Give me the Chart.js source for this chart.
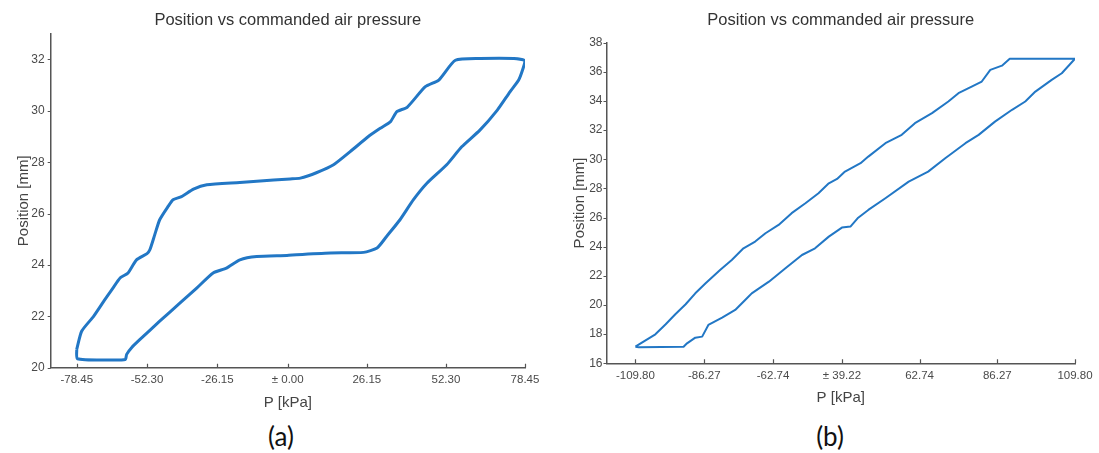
<!DOCTYPE html>
<html>
<head>
<meta charset="utf-8">
<script src="https://cdn.jsdelivr.net/npm/chart.js@4.4.1/dist/chart.umd.min.js"></script>
<style>
  body { margin: 0; background: #fff; width: 1099px; height: 453px; overflow: hidden; position: relative; }
  .box { position: absolute; top: 0; height: 420px; }
  #boxA { left: 0; width: 550px; }
  #boxB { left: 550px; width: 549px; }
  .tag { position: absolute; top: 421px; line-height: 30px; font-family: Lato, "Open Sans", sans-serif; font-size: 26px; color: #111; transform: translateX(-50%); }
</style>
</head>
<body>
<div class="box" id="boxA"><canvas id="chartA"></canvas></div>
<div class="box" id="boxB"><canvas id="chartB"></canvas></div>
<div class="tag" style="left:281px">(a)</div>
<div class="tag" style="left:830px">(b)</div>
<script>
// tick labels as printed under each x axis
var xLabelsA = ['-78.45', '-52.30', '-26.15', '± 0.00', '26.15', '52.30', '78.45']
var xLabelsB = ['-109.80', '-86.27', '-62.74', '± 39.22', '62.74', '86.27', '109.80']
var yTicksA = [20, 22, 24, 26, 28, 30, 32]
var yTicksB = [16, 18, 20, 22, 24, 26, 28, 30, 32, 34, 36, 38]

// P given in tick steps from the first x tick (0..6), position in mm
var pA = [0.00, 0.07, 0.24, 0.40, 0.50, 0.62, 0.73, 0.85, 1.00, 1.04, 1.11, 1.18, 1.30, 1.37, 1.49, 1.66, 1.85, 2.32, 2.80, 3.03, 3.16, 3.37, 3.58, 3.79, 4.02, 4.17, 4.30, 4.38, 4.51, 4.74, 4.91, 5.12, 5.43, 5.86, 6.00,
  5.97, 5.92, 5.81, 5.65, 5.43, 5.20, 5.01, 4.76, 4.59, 4.42, 4.25, 4.13, 3.96, 3.54, 3.11, 2.99, 2.56, 2.32, 2.13, 1.94, 1.71, 1.47, 1.18, 0.90, 0.78, 0.71, 0.69, 0.43, 0.01, 0.00]
var posA = [20.71, 21.42, 22.0, 22.65, 23.04, 23.5, 23.69, 24.2, 24.44, 24.59, 25.18, 25.76, 26.28, 26.54, 26.66, 26.95, 27.12, 27.21, 27.31, 27.35, 27.38, 27.6, 27.9, 28.41, 29.0, 29.32, 29.58, 29.97, 30.14, 30.94, 31.2, 31.97, 32.04, 32.04, 31.95,
  31.6, 31.2, 30.74, 30.03, 29.25, 28.6, 27.9, 27.18, 26.54, 25.76, 25.11, 24.66, 24.49, 24.47, 24.40, 24.37, 24.33, 24.2, 23.88, 23.69, 23.11, 22.52, 21.81, 21.1, 20.78, 20.52, 20.32, 20.30, 20.35, 20.71]

var pB = [0, 0.10, 0.29, 0.44, 0.58, 0.73, 0.87, 1.02, 1.23, 1.40, 1.57, 1.74, 1.89, 2.08, 2.27, 2.47, 2.66, 2.81, 2.93, 3.04, 3.24, 3.34, 3.56, 3.77, 3.94, 4.16, 4.37, 4.50, 4.67, 4.80, 4.91, 5.06, 5.16, 6.00,
  5.83, 5.70, 5.49, 5.36, 5.19, 4.97, 4.76, 4.59, 4.33, 4.11, 3.86, 3.56, 3.34, 3.21, 3.11, 3.00, 2.81, 2.61, 2.42, 2.18, 1.94, 1.69, 1.62, 1.45, 1.26, 1.06, 0.97, 0.87, 0.75, 0.70, 0.05, 0]
var posB = [17.14, 17.44, 17.99, 18.68, 19.36, 20.05, 20.80, 21.49, 22.40, 23.09, 23.89, 24.35, 24.92, 25.49, 26.30, 26.98, 27.67, 28.35, 28.65, 29.15, 29.73, 30.18, 31.10, 31.67, 32.47, 33.16, 33.96, 34.53, 34.98, 35.33, 36.13, 36.42, 36.89, 36.89,
  35.90, 35.44, 34.64, 33.96, 33.39, 32.58, 31.67, 31.10, 30.07, 29.15, 28.46, 27.32, 26.52, 25.99, 25.38, 25.31, 24.69, 23.89, 23.43, 22.52, 21.60, 20.80, 20.46, 19.66, 19.13, 18.63, 17.83, 17.76, 17.37, 17.14, 17.10, 17.14]

var FONT = '"Liberation Sans", Arial, sans-serif'
var BLUE = '#2277c5'

// right half of the x axis has wider tick spacing than the left half
function toAxis(s, r) {
  return s <= 3 ? s : 3 + (s - 3) * r
}

// small tick marks: x ticks point up into the plot, y ticks point out
var tickMarks = {
  id: 'tickMarks',
  afterDraw: function (chart) {
    var ctx = chart.ctx, x = chart.scales.x, y = chart.scales.y
    ctx.save()
    ctx.strokeStyle = '#555'
    ctx.lineWidth = 1.2
    ctx.beginPath()
    x.ticks.forEach(function (t) {
      var px = Math.round(x.getPixelForValue(t.value)) + 0.5
      ctx.moveTo(px, x.top)
      ctx.lineTo(px, x.top - 4)
    })
    y.ticks.forEach(function (t) {
      var py = Math.round(y.getPixelForValue(t.value)) + 0.5
      ctx.moveTo(y.right, py)
      ctx.lineTo(y.right - 3, py)
    })
    ctx.stroke()
    ctx.restore()
  }
}

function makeChart(id, s) {
  var pts = s.p.map(function (v, i) { return { x: toAxis(v, s.r), y: s.pos[i] } })
  return new Chart(document.getElementById(id), {
    type: 'scatter',
    data: {
      datasets: [{
        data: pts,
        showLine: true,
        borderColor: BLUE,
        backgroundColor: BLUE,
        borderWidth: s.lw,
        borderJoinStyle: 'round',
        pointRadius: 0,
        tension: s.tension
      }]
    },
    options: {
      responsive: true,
      maintainAspectRatio: false,
      animation: false,
      layout: { padding: { left: 0, right: s.padRight, top: 0, bottom: 0 } },
      plugins: {
        legend: { display: false },
        tooltip: { enabled: false },
        title: {
          display: true,
          text: 'Position vs commanded air pressure',
          fullSize: false,
          color: '#333',
          font: { family: FONT, size: 16.5, weight: 'normal' },
          padding: { top: 11, bottom: s.titleGap }
        }
      },
      scales: {
        x: {
          type: 'linear',
          min: s.xMin,
          max: 3 + 3 * s.r,
          afterBuildTicks: function (sc) {
            sc.ticks = s.labels.map(function (l, i) { return { value: toAxis(i, s.r) } })
          },
          afterFit: function (sc) { sc.height = s.xH },
          grid: { display: false, drawTicks: false },
          border: { color: '#555', width: 1.5 },
          ticks: {
            autoSkip: false, maxRotation: 0, padding: s.xPad, color: '#4a4a4a',
            font: { family: FONT, size: 11.5 },
            callback: function (v, i) { return s.labels[i] }
          },
          title: {
            display: true, text: 'P [kPa]', color: '#444',
            font: { family: FONT, size: 15 },
            padding: { top: 0, bottom: s.xTitlePad }
          }
        },
        y: {
          type: 'linear',
          min: s.yMin,
          max: s.yMax,
          afterBuildTicks: function (sc) {
            sc.ticks = s.yTicks.map(function (v) { return { value: v } })
          },
          afterFit: function (sc) { sc.width = s.yW },
          grid: { display: false, drawTicks: false },
          border: { color: '#555', width: 1.5 },
          ticks: {
            padding: s.yPad, color: '#4a4a4a',
            font: { family: FONT, size: 12 }
          },
          title: {
            display: true, text: 'Position [mm]', color: '#444',
            font: { family: FONT, size: 15 },
            padding: { top: s.yTitlePad, bottom: 0 }
          }
        }
      }
    },
    plugins: [tickMarks]
  })
}

makeChart('chartA', {
  p: pA, pos: posA, labels: xLabelsA, yTicks: yTicksA,
  r: 1.125, xMin: -0.37, yMin: 20, yMax: 33, lw: 3, tension: 0.2,
  padRight: 25, titleGap: 3, xH: 52.3, xPad: 5, xTitlePad: 8,
  yW: 50.7, yPad: 6, yTitlePad: 15
})

makeChart('chartB', {
  p: pB, pos: posB, labels: xLabelsB, yTicks: yTicksB,
  r: 1.129, xMin: -0.42, yMin: 16, yMax: 38, lw: 2, tension: 0,
  padRight: 24, titleGap: 11.8, xH: 56.7, xPad: 6, xTitlePad: 12.7,
  yW: 56.5, yPad: 4, yTitlePad: 21
})
</script>
</body>
</html>
